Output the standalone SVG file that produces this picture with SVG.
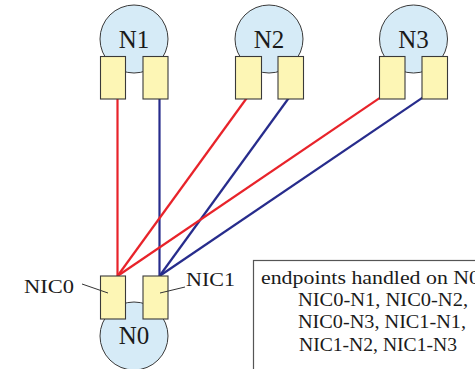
<svg xmlns="http://www.w3.org/2000/svg" width="475" height="369" viewBox="0 0 475 369">
<style>
.node circle{fill:#d6ebf7;stroke:#3a3a3a;stroke-width:1}
.nic{fill:#fdf6b5;stroke:#3a3a3a;stroke-width:1.1}
.lbl{font-family:"Liberation Serif","Times New Roman",serif;fill:#1a1a1a}
.big{font-size:25px;text-anchor:middle}
.small{font-size:18px}
.note{font-size:18px}
.red{stroke:#e8232a;stroke-width:2.2;fill:none}
.blue{stroke:#272c8c;stroke-width:2.2;fill:none}
.lead{stroke:#333;stroke-width:1;fill:none}
</style>
<rect width="475" height="369" fill="#ffffff"/>
<g id="connectors">
<line class="red" x1="117.5" y1="276" x2="117.5" y2="95"/>
<line class="blue" x1="159.5" y1="276" x2="159.5" y2="95"/>
<line class="red" x1="117.5" y1="276" x2="247.5" y2="97"/>
<line class="blue" x1="159.5" y1="276" x2="289.5" y2="97"/>
<line class="red" x1="117.5" y1="276" x2="385" y2="94.3"/>
<line class="blue" x1="159.5" y1="276" x2="427" y2="94.6"/>
</g>
<g id="N1" class="node">
<circle cx="134" cy="39" r="34"/>
<rect class="nic" x="100.5" y="56.5" width="25" height="42.5"/>
<rect class="nic" x="143" y="56.5" width="25" height="42.5"/>
<text class="lbl big" x="134" y="48">N1</text>
</g>
<g id="N2" class="node">
<circle cx="269" cy="39" r="34"/>
<rect class="nic" x="235.5" y="56.5" width="26" height="42.5"/>
<rect class="nic" x="278" y="56.5" width="25.5" height="42.5"/>
<text class="lbl big" x="269" y="48">N2</text>
</g>
<g id="N3" class="node">
<circle cx="413.5" cy="39" r="34"/>
<rect class="nic" x="379.5" y="56.5" width="25.5" height="42.5"/>
<rect class="nic" x="422" y="56.5" width="25.5" height="42.5"/>
<text class="lbl big" x="413.5" y="48">N3</text>
</g>
<g id="N0" class="node">
<circle cx="134" cy="336" r="34"/>
<rect class="nic" x="100.5" y="276" width="25" height="43"/>
<rect class="nic" x="143" y="276" width="25" height="43"/>
<text class="lbl big" x="134" y="344">N0</text>
</g>
<g id="nic-labels">
<line class="lead" x1="82" y1="284" x2="108" y2="293"/>
<text class="lbl small" x="24" y="293" textLength="50" lengthAdjust="spacingAndGlyphs">NIC0</text>
<line class="lead" x1="160" y1="293" x2="185" y2="287"/>
<text class="lbl small" x="186" y="285.5" textLength="49" lengthAdjust="spacingAndGlyphs">NIC1</text>
</g>
<g id="note">
<rect x="253.5" y="260.5" width="260" height="150" fill="#ffffff" stroke="#555" stroke-width="1.2"/>
<text class="lbl note" x="261" y="283.5" textLength="219" lengthAdjust="spacingAndGlyphs">endpoints handled on N0</text>
<text class="lbl note" x="298" y="305.5" textLength="170" lengthAdjust="spacingAndGlyphs">NIC0-N1, NIC0-N2,</text>
<text class="lbl note" x="298" y="328" textLength="168" lengthAdjust="spacingAndGlyphs">NIC0-N3, NIC1-N1,</text>
<text class="lbl note" x="299" y="350.5" textLength="158" lengthAdjust="spacingAndGlyphs">NIC1-N2, NIC1-N3</text>
</g>
</svg>
